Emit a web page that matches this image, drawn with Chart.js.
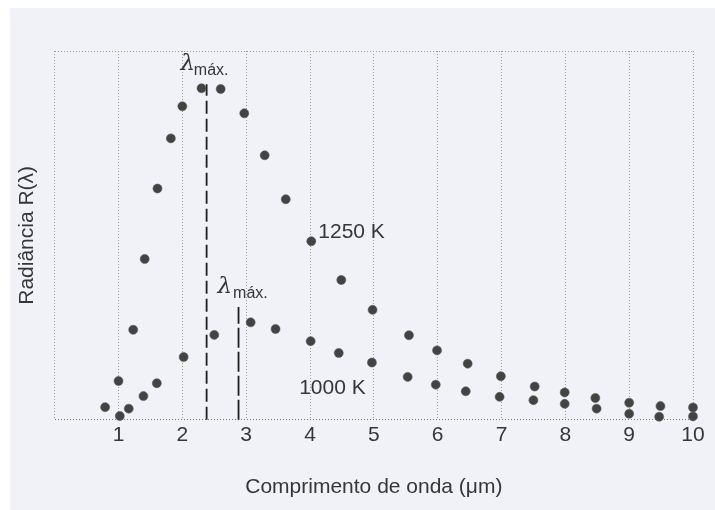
<!DOCTYPE html>
<html>
<head>
<meta charset="utf-8">
<script src="https://cdn.jsdelivr.net/npm/chart.js@4.4.0/dist/chart.umd.min.js"></script>
<style>
html,body{margin:0;padding:0;background:#ffffff;}
#wrap{width:715px;height:510px;position:relative;}
</style>
</head>
<body>
<div id="wrap"><canvas id="c" width="715" height="510"></canvas></div>
<script>
// ---- data ----
const wl1250 = [0.79,1.00,1.23,1.41,1.61,1.82,2.00,2.30,2.60,2.97,3.29,3.62,4.02,4.49,4.98,5.55,5.99,6.47,6.99,7.52,7.99,8.47,9.00,9.49,10.0];
const r1250  = [3.4,10.5,24.4,43.6,62.7,76.3,85.0,89.9,89.7,83.1,71.7,59.8,48.4,37.9,29.8,22.9,18.8,15.2,11.8,9.0,7.4,5.9,4.6,3.7,3.3];
const wl1000 = [1.02,1.16,1.39,1.60,2.02,2.50,3.07,3.46,4.01,4.45,4.97,5.53,5.97,6.44,6.97,7.50,7.99,8.49,9.00,9.47,10.0];
const r1000  = [1.0,3.0,6.4,9.9,17.0,23.0,26.4,24.6,21.3,18.1,15.5,11.6,9.5,7.7,6.2,5.3,4.3,3.0,1.6,0.8,0.9];
const lambdaMaxX   = [2.38, 2.88];   // wavelength of each λmáx marker
const lambdaMaxTop = [91, 30.6];     // top of each λmáx marker
const curveLabels  = ['1250 K', '1000 K'];
const xTickValues  = [0,1,2,3,4,5,6,7,8,9,10];
const xTitle = 'Comprimento de onda (μm)';
const yTitle = 'Radiância R(λ)';

const TEXT = '#363636';
const SANS = "'Liberation Sans', Arial, Helvetica, sans-serif";

const toPts = (xs, ys) => xs.map((x, i) => ({x: x, y: ys[i]}));

const datasets = [
  {label: curveLabels[0], data: toPts(wl1250, r1250)},
  {label: curveLabels[1], data: toPts(wl1000, r1000)}
].map(d => Object.assign(d, {
  pointRadius: 4.5, pointBackgroundColor: '#434343',
  pointBorderColor: '#5a5a5a', pointBorderWidth: 0.6, showLine: false, clip: false
}));

lambdaMaxX.forEach((lx, i) => {
  datasets.push({
    label: 'λmáx ' + i,
    data: [{x: lx, y: 0}, {x: lx, y: lambdaMaxTop[i]}],
    showLine: true, pointRadius: 0, borderColor: '#1e1e1e', clip: false,
    borderWidth: 1.8, borderDash: i === 0 ? [13, 5] : [20, 4]
  });
});

const paperPlugin = {
  id: 'paper',
  beforeDraw(chart) {
    const c = chart.ctx;
    c.save();
    c.fillStyle = '#ffffff';
    c.fillRect(0, 0, chart.width, chart.height);
    c.fillStyle = '#f1f2f8';
    c.fillRect(10, 8, chart.width - 10, chart.height - 8);
    c.restore();
  }
};

const labelPlugin = {
  id: 'labels',
  afterDatasetsDraw(chart) {
    const c = chart.ctx, xs = chart.scales.x, ys = chart.scales.y;
    c.save();
    c.fillStyle = TEXT;
    c.textBaseline = 'middle';
    c.textAlign = 'left';
    c.font = '21px ' + SANS;
    c.fillText(curveLabels[0], xs.getPixelForValue(4.13), ys.getPixelForValue(50.8));
    c.fillText(curveLabels[1], xs.getPixelForValue(3.83), ys.getPixelForValue(8.6));
    // λmáx labels
    const lam = [{x: 1.97, y: 94.8, sx: 2.18, sy: 93.6}, {x: 2.55, y: 34.3, sx: 2.795, sy: 33.1}];
    c.textBaseline = 'alphabetic';
    lam.forEach(p => {
      c.font = 'italic 23px "DejaVu Serif", "Liberation Serif", serif';
      c.fillText('λ', xs.getPixelForValue(p.x), ys.getPixelForValue(p.y));
      c.font = '16px ' + SANS;
      c.fillText('máx.', xs.getPixelForValue(p.sx), ys.getPixelForValue(p.sy));
    });
    c.restore();
  }
};

new Chart(document.getElementById('c'), {
  type: 'scatter',
  data: {datasets: datasets},
  plugins: [paperPlugin, labelPlugin],
  options: {
    responsive: false, animation: false, devicePixelRatio: 1,
    layout: {padding: {top: 51, left: 10, right: 22, bottom: 0}},
    plugins: {legend: {display: false}, tooltip: {enabled: false}},
    scales: {
      x: {
        type: 'linear', min: 0, max: 10,
        afterBuildTicks: s => { s.ticks = xTickValues.map(v => ({value: v})); },
        afterFit: s => { s.height = 90.3; },
        ticks: {
          callback: v => (v === 0 ? '' : String(v)),
          font: {family: SANS, size: 21}, color: TEXT, padding: 3,
          maxRotation: 0, autoSkip: false
        },
        grid: {color: '#999999', lineWidth: 1, drawTicks: false},
        border: {display: false, dash: [1, 2]},
        title: {display: true, text: xTitle, color: TEXT,
                font: {family: SANS, size: 21}, padding: {top: 0, bottom: 10}}
      },
      y: {
        min: 0, max: 100,
        afterBuildTicks: s => { s.ticks = [{value: 0}, {value: 100}]; },
        afterFit: s => { s.width = 44.7; },
        ticks: {display: false},
        grid: {color: ctx => (ctx.tick && ctx.tick.value === 0 ? '#777777' : '#999999'), lineWidth: 1, drawTicks: false},
        border: {display: false, dash: [1, 2]},
        title: {display: true, text: yTitle, color: TEXT,
                font: {family: SANS, size: 21}, padding: {top: 5, bottom: 0}}
      }
    }
  }
});
</script>
</body>
</html>
